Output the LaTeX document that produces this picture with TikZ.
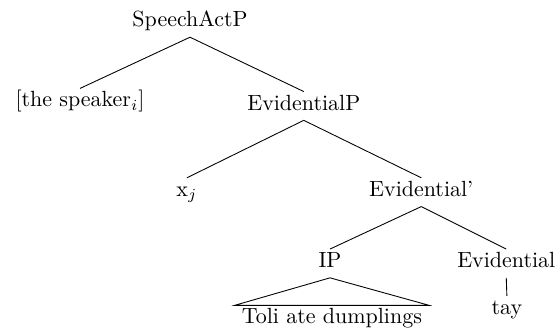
\documentclass[tikz,border=0pt]{standalone}
\usepackage{amsmath}
\tikzset{>=stealth}
\tikzset{lbl/.style={anchor=base, inner sep=1pt, text height=7.2pt, text depth=3.5pt}}

\begin{document}
\begin{tikzpicture}
    \useasboundingbox (0,0) rectangle (8.96,5.33);
    \node[lbl] (sap) at (3.04,4.90) {SpeechActP};
    \node[lbl] (spk) at (1.28,3.62) {[the speaker$_i$]};
    \node[lbl] (evp) at (4.86,3.57) {EvidentialP};
    \node[lbl] (xj) at (2.99,2.19) {x$_j$};
    \node[lbl] (evbar) at (6.74,2.19) {Evidential'};
    \node[lbl] (ip) at (5.28,1.05) {IP};
    \node[lbl] (ev) at (8.10,1.05) {Evidential};
    \node[lbl] (tay) at (8.11,0.30) {tay};
    \node[lbl, inner xsep=3pt] (toli) at (5.31,0.15) {Toli ate dumplings};
    \draw (sap.south) -- (spk.north);
    \draw (sap.south) -- (evp.north);
    \draw (evp.south) -- (xj.north);
    \draw (evp.south) -- (evbar.north);
    \draw (evbar.south) -- (ip.north);
    \draw (evbar.south) -- (ev.north);
    \draw (ip.south) -- (toli.north west) -- (toli.north east) -- cycle;
    \draw (ev.south) -- (tay.north);
\end{tikzpicture}
\end{document}
